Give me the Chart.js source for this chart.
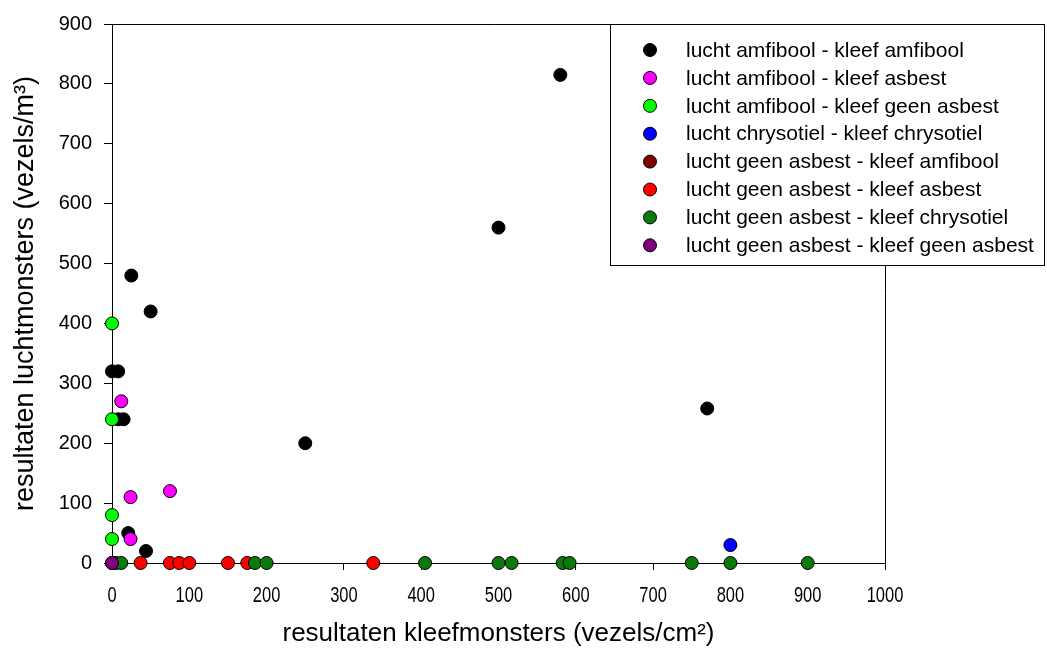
<!DOCTYPE html>
<html>
<head>
<meta charset="utf-8">
<script src="https://cdn.jsdelivr.net/npm/chart.js@4"></script>
<style>
  html, body { margin: 0; padding: 0; background: #fff; }
  #wrap { width: 1047px; height: 653px; }
</style>
</head>
<body>
<div id="wrap"><canvas id="scatterChart" width="1047" height="653"></canvas></div>
<script>
// series labels and colours
const seriesLabels = [
    'lucht amfibool - kleef amfibool',
    'lucht amfibool - kleef asbest',
    'lucht amfibool - kleef geen asbest',
    'lucht chrysotiel - kleef chrysotiel',
    'lucht geen asbest - kleef amfibool',
    'lucht geen asbest - kleef asbest',
    'lucht geen asbest - kleef chrysotiel',
    'lucht geen asbest - kleef geen asbest'
];
const seriesColors = ['#000000', '#ff00ff', '#00ff00', '#0000ff', '#800000', '#ff0000', '#0a7a0a', '#800080'];

// x = kleef (vezels/cm2), y = lucht (vezels/m3)
const amfAmfX = [25, 50, 0, 8, 8, 15, 21, 44, 250, 500, 580, 770];
const amfAmfY = [480, 420, 320, 320, 240, 240, 50, 20, 200, 560, 815, 258];
const amfAsbX = [12, 24, 75, 24];
const amfAsbY = [270, 110, 120, 40];
const amfGeenX = [0, 0, 0, 0];
const amfGeenY = [400, 240, 80, 40];
const chrChrX = [800];
const chrChrY = [30];
const geenAmfX = [0];
const geenAmfY = [0];
const geenAsbX = [37, 75, 87, 100, 150, 175, 338];
const geenAsbY = [0, 0, 0, 0, 0, 0, 0];
const geenChrX = [5, 12, 185, 200, 405, 500, 517, 583, 592, 750, 800, 900];
const geenChrY = [0, 0, 0, 0, 0, 0, 0, 0, 0, 0, 0, 0];
const geenGeenX = [0];
const geenGeenY = [0];

const xTicks = [0, 100, 200, 300, 400, 500, 600, 700, 800, 900, 1000];
const yTicks = [0, 100, 200, 300, 400, 500, 600, 700, 800, 900];

const seriesX = [amfAmfX, amfAsbX, amfGeenX, chrChrX, geenAmfX, geenAsbX, geenChrX, geenGeenX];
const seriesY = [amfAmfY, amfAsbY, amfGeenY, chrChrY, geenAmfY, geenAsbY, geenChrY, geenGeenY];

const FONT = "'Liberation Sans', Arial, sans-serif";

const datasets = seriesLabels.map((label, i) => ({
    label: label,
    data: seriesX[i].map((x, j) => ({ x: x, y: seriesY[i][j] })),
    backgroundColor: seriesColors[i],
    borderColor: '#000000',
    borderWidth: 1,
    pointRadius: 6.5,
    pointHoverRadius: 6.5,
    clip: false,
    order: -i   // later series drawn on top
}));

// frame on top/right, condensed x tick labels and the boxed legend
const framePlugin = {
    id: 'frameLegend',
    afterDraw(chart) {
        const { ctx, chartArea: a } = chart;
        ctx.save();
        ctx.strokeStyle = '#000';
        ctx.lineWidth = 1;
        ctx.beginPath();
        ctx.moveTo(a.left - 8, a.top + 0.5);
        ctx.lineTo(a.right + 0.5, a.top + 0.5);
        ctx.lineTo(a.right + 0.5, a.bottom);
        ctx.stroke();

        // x tick labels (narrow in the original)
        const xs = chart.scales.x;
        ctx.fillStyle = '#000';
        ctx.font = '22px ' + FONT;
        ctx.textAlign = 'center';
        ctx.textBaseline = 'middle';
        xs.ticks.forEach(t => {
            const px = xs.getPixelForValue(t.value);
            ctx.save();
            ctx.translate(px, 596);
            ctx.scale(0.75, 1);
            ctx.fillText(String(t.value), 0, 0);
            ctx.restore();
        });

        // legend box
        const bx = 610.5, by = a.top + 0.5, bw = 434, bh = 241;
        ctx.fillStyle = '#fff';
        ctx.fillRect(bx, by, bw, bh);
        ctx.strokeRect(bx, by, bw, bh);

        ctx.font = '21px ' + FONT;
        ctx.textBaseline = 'middle';
        ctx.textAlign = 'left';
        chart.data.datasets.forEach((ds, i) => {
            const y = 50 + i * 27.9;
            ctx.beginPath();
            ctx.arc(650, y, 6.5, 0, Math.PI * 2);
            ctx.fillStyle = ds.backgroundColor;
            ctx.fill();
            ctx.strokeStyle = '#000';
            ctx.stroke();
            ctx.fillStyle = '#000';
            ctx.fillText(ds.label, 686, y + 1);
        });
        ctx.restore();
    }
};

const ctx = document.getElementById('scatterChart').getContext('2d');
new Chart(ctx, {
    type: 'scatter',
    data: { datasets: datasets },
    plugins: [framePlugin],
    options: {
        responsive: false,
        animation: false,
        layout: { padding: { top: 23, right: 162, left: 0, bottom: 0 } },
        plugins: {
            legend: { display: false },
            tooltip: { enabled: false }
        },
        scales: {
            x: {
                type: 'linear',
                min: 0,
                max: 1000,
                afterBuildTicks: (axis) => { axis.ticks = xTicks.map(v => ({ value: v })); },
                afterFit: (axis) => { axis.height = 90; },
                border: { display: true, color: '#000', width: 1 },
                grid: { display: true, drawOnChartArea: false, tickLength: 7, tickColor: '#000' },
                ticks: { display: false },
                title: {
                    display: true,
                    text: 'resultaten kleefmonsters (vezels/cm²)',
                    color: '#000',
                    font: { family: FONT, size: 26 },
                    padding: { top: 0, bottom: 4 }
                }
            },
            y: {
                type: 'linear',
                min: 0,
                max: 900,
                afterBuildTicks: (axis) => { axis.ticks = yTicks.map(v => ({ value: v })); },
                afterFit: (axis) => { axis.width = 112; },
                border: { display: true, color: '#000', width: 1 },
                grid: { display: true, drawOnChartArea: false, tickLength: 8, tickColor: '#000' },
                ticks: {
                    color: '#000',
                    padding: 12,
                    font: { family: FONT, size: 20 },
                    callback: (v) => String(v)
                },
                title: {
                    display: true,
                    text: 'resultaten luchtmonsters (vezels/m³)',
                    color: '#000',
                    font: { family: FONT, size: 27 },
                    padding: { top: 9, bottom: 0 }
                }
            }
        }
    }
});
</script>
</body>
</html>
